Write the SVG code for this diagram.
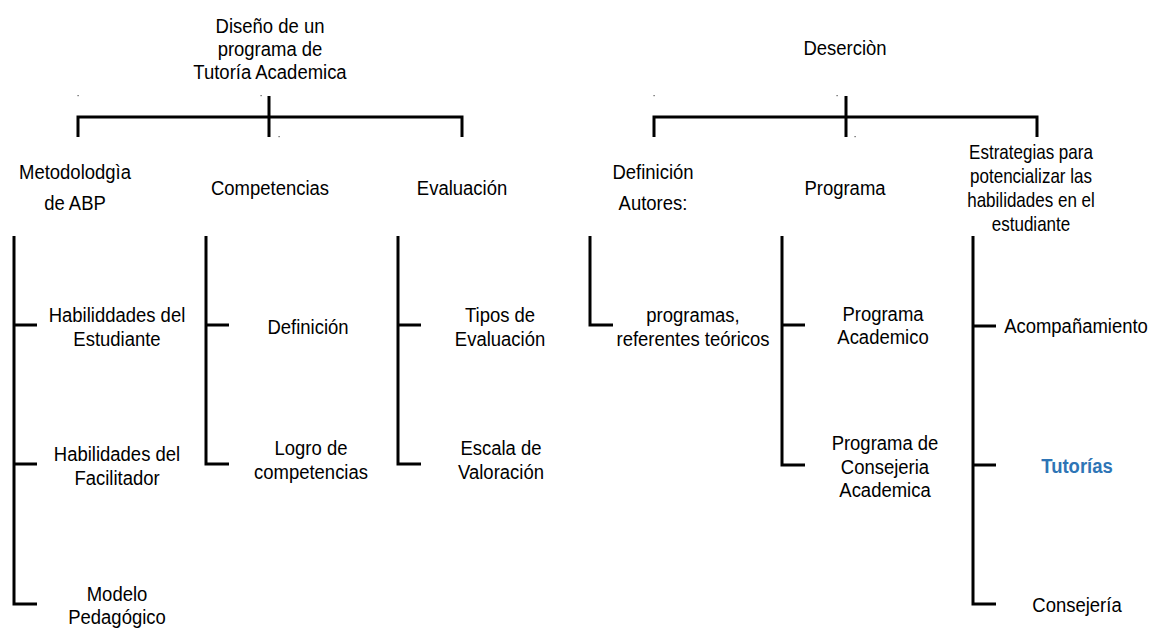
<svg xmlns="http://www.w3.org/2000/svg" width="1152" height="628" viewBox="0 0 1152 628">
<style>
.t{font-family:"Liberation Sans",Arial,sans-serif;font-size:21px;fill:#000;text-anchor:middle}
.b{font-weight:bold;fill:#2E75B6}
.ln{fill:none;stroke:#000;stroke-width:3;stroke-linejoin:miter;stroke-linecap:butt}
.dot{fill:#555}
</style>
<rect width="1152" height="628" fill="#fff"/>
<g id="connectors">
<path class="ln" d="M78,137 V117 H462 V137 M269,96 V137"/>
<path class="ln" d="M654,137 V117 H1037 V137 M846,96 V137"/>
<path class="ln" d="M14,236 V604 H37 M14,325 H37 M14,464 H37"/>
<path class="ln" d="M206,236 V464 H229 M206,325 H229"/>
<path class="ln" d="M398,236 V464 H421 M398,325 H421"/>
<path class="ln" d="M590,236 V325 H613"/>
<path class="ln" d="M782,236 V465 H805 M782,325 H805"/>
<path class="ln" d="M973,236 V604 H996 M973,326 H996 M973,465 H996"/>
<rect class="dot" x="77.5" y="95" width="1.2" height="1.2"/>
<rect class="dot" x="260.5" y="95" width="1.2" height="1.2"/>
<rect class="dot" x="278.5" y="136" width="1.2" height="1.2"/>
<rect class="dot" x="653.5" y="95" width="1.2" height="1.2"/>
<rect class="dot" x="836.5" y="95" width="1.2" height="1.2"/>
<rect class="dot" x="854.5" y="136" width="1.2" height="1.2"/>
</g>
<g id="n-diseno"><text class="t" transform="matrix(0.88 0 0 1 270 0)"><tspan x="0" y="33">Diseño de un</tspan><tspan x="0" y="56">programa de</tspan><tspan x="0" y="79">Tutoría Academica</tspan></text></g>
<g id="n-desercion"><text class="t" transform="matrix(0.88 0 0 1 845 0)"><tspan x="0" y="55">Deserciòn</tspan></text></g>
<g id="n-metodologia"><text class="t" transform="matrix(0.88 0 0 1 75 0)"><tspan x="0" y="179">Metodolodgìa</tspan><tspan x="0" y="210">de ABP</tspan></text></g>
<g id="n-competencias"><text class="t" transform="matrix(0.88 0 0 1 270 0)"><tspan x="0" y="195">Competencias</tspan></text></g>
<g id="n-evaluacion"><text class="t" transform="matrix(0.88 0 0 1 462 0)"><tspan x="0" y="195">Evaluación</tspan></text></g>
<g id="n-definicion-autores"><text class="t" transform="matrix(0.88 0 0 1 653 0)"><tspan x="0" y="179">Definición</tspan><tspan x="0" y="210">Autores:</tspan></text></g>
<g id="n-programa"><text class="t" transform="matrix(0.88 0 0 1 845 0)"><tspan x="0" y="195">Programa</tspan></text></g>
<g id="n-estrategias"><text class="t" transform="matrix(0.81 0 0 1 1031 0)"><tspan x="0" y="159">Estrategias para</tspan><tspan x="0" y="183">potencializar las</tspan><tspan x="0" y="207">habilidades en el</tspan><tspan x="0" y="231">estudiante</tspan></text></g>
<g id="n-hab-estudiante"><text class="t" transform="matrix(0.88 0 0 1 117 0)"><tspan x="0" y="322">Habiliddades del</tspan><tspan x="0" y="346">Estudiante</tspan></text></g>
<g id="n-hab-facilitador"><text class="t" transform="matrix(0.88 0 0 1 117 0)"><tspan x="0" y="461">Habilidades del</tspan><tspan x="0" y="485">Facilitador</tspan></text></g>
<g id="n-modelo"><text class="t" transform="matrix(0.88 0 0 1 117 0)"><tspan x="0" y="601">Modelo</tspan><tspan x="0" y="624">Pedagógico</tspan></text></g>
<g id="n-definicion"><text class="t" transform="matrix(0.88 0 0 1 308 0)"><tspan x="0" y="334">Definición</tspan></text></g>
<g id="n-logro"><text class="t" transform="matrix(0.88 0 0 1 311 0)"><tspan x="0" y="455">Logro de</tspan><tspan x="0" y="479">competencias</tspan></text></g>
<g id="n-tipos"><text class="t" transform="matrix(0.88 0 0 1 500 0)"><tspan x="0" y="322">Tipos de</tspan><tspan x="0" y="346">Evaluación</tspan></text></g>
<g id="n-escala"><text class="t" transform="matrix(0.88 0 0 1 501 0)"><tspan x="0" y="455">Escala de</tspan><tspan x="0" y="479">Valoración</tspan></text></g>
<g id="n-programas-ref"><text class="t" transform="matrix(0.88 0 0 1 693 0)"><tspan x="0" y="322">programas,</tspan><tspan x="0" y="346">referentes teóricos</tspan></text></g>
<g id="n-prog-academico"><text class="t" transform="matrix(0.88 0 0 1 883 0)"><tspan x="0" y="321">Programa</tspan><tspan x="0" y="344">Academico</tspan></text></g>
<g id="n-prog-consejeria"><text class="t" transform="matrix(0.88 0 0 1 885 0)"><tspan x="0" y="450">Programa de</tspan><tspan x="0" y="474">Consejeria</tspan><tspan x="0" y="497">Academica</tspan></text></g>
<g id="n-acompanamiento"><text class="t" transform="matrix(0.88 0 0 1 1076 0)"><tspan x="0" y="333">Acompañamiento</tspan></text></g>
<g id="n-tutorias"><text class="t b" transform="matrix(0.88 0 0 1 1077 0)"><tspan x="0" y="473">Tutorías</tspan></text></g>
<g id="n-consejeria"><text class="t" transform="matrix(0.88 0 0 1 1077 0)"><tspan x="0" y="612">Consejería</tspan></text></g>
</svg>
